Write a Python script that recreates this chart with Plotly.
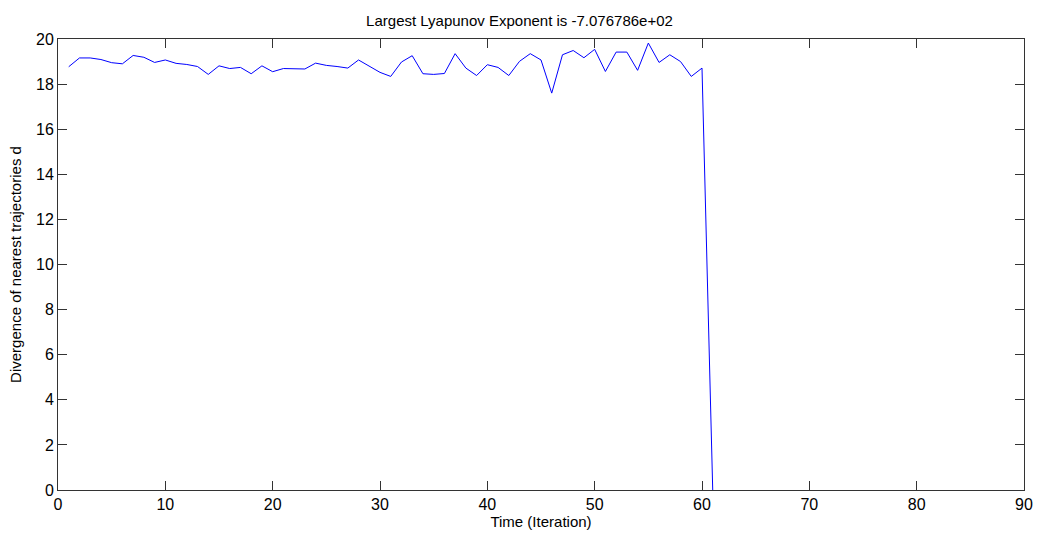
import plotly.graph_objects as go

# iteration index and divergence values
iterations = list(range(1, 62))
divergence = [
    18.77, 19.16, 19.16, 19.09, 18.95, 18.90, 19.27, 19.19, 18.96, 19.07,
    18.92, 18.87, 18.78, 18.43, 18.81, 18.69, 18.74, 18.46, 18.81, 18.55,
    18.69, 18.69, 18.67, 18.93, 18.83, 18.78, 18.71, 19.07, 18.81, 18.52,
    18.34, 18.98, 19.26, 18.46, 18.43, 18.47, 19.35, 18.71, 18.38, 18.86,
    18.74, 18.38, 19.01, 19.35, 19.07, 17.60, 19.30, 19.49, 19.17, 19.54,
    18.56, 19.42, 19.42, 18.61, 19.82, 18.96, 19.30, 19.00, 18.34, 18.71,
    0.0,
]
x_ticks = [0, 10, 20, 30, 40, 50, 60, 70, 80, 90]
y_ticks = [0, 2, 4, 6, 8, 10, 12, 14, 16, 18, 20]

fig = go.Figure(
    go.Scatter(
        x=iterations,
        y=divergence,
        mode="lines",
        line={"color": "#0000ff", "width": 1},
        showlegend=False,
    )
)

axis_style = {
    "showline": True,
    "linecolor": "#333333",
    "linewidth": 1,
    "mirror": "ticks",
    "ticks": "inside",
    "ticklen": 9,
    "tickcolor": "#333333",
    "showgrid": False,
    "zeroline": False,
    "automargin": False,
    "tickfont": {"size": 16, "color": "black"},
}

fig.update_layout(
    width=1039,
    height=538,
    margin={"l": 58, "r": 15, "t": 39, "b": 48, "autoexpand": False},
    paper_bgcolor="white",
    plot_bgcolor="white",
    font={"family": "Liberation Sans, Arial, sans-serif", "color": "black"},
    title={
        "text": "Largest Lyapunov Exponent is -7.076786e+02",
        "x": 0.5,
        "xanchor": "center",
        "y": 0.961,
        "yanchor": "middle",
        "font": {"size": 15},
    },
    xaxis={
        **axis_style,
        "range": [0, 90],
        "tickvals": x_ticks,
        "ticklabeloverflow": "allow",
        "title": {"text": "Time (Iteration)", "font": {"size": 15}, "standoff": 2},
    },
    yaxis={
        **axis_style,
        "range": [0, 20],
        "tickvals": y_ticks,
        "title": {
            "text": "Divergence of nearest trajectories d",
            "font": {"size": 15},
            "standoff": 10,
        },
    },
)

# drop the default 8px page margin so the figure sits at the window corner
fig.write_html(
    "out.html",
    config={"displayModeBar": False},
    post_script="document.body.style.margin = '0';",
)
